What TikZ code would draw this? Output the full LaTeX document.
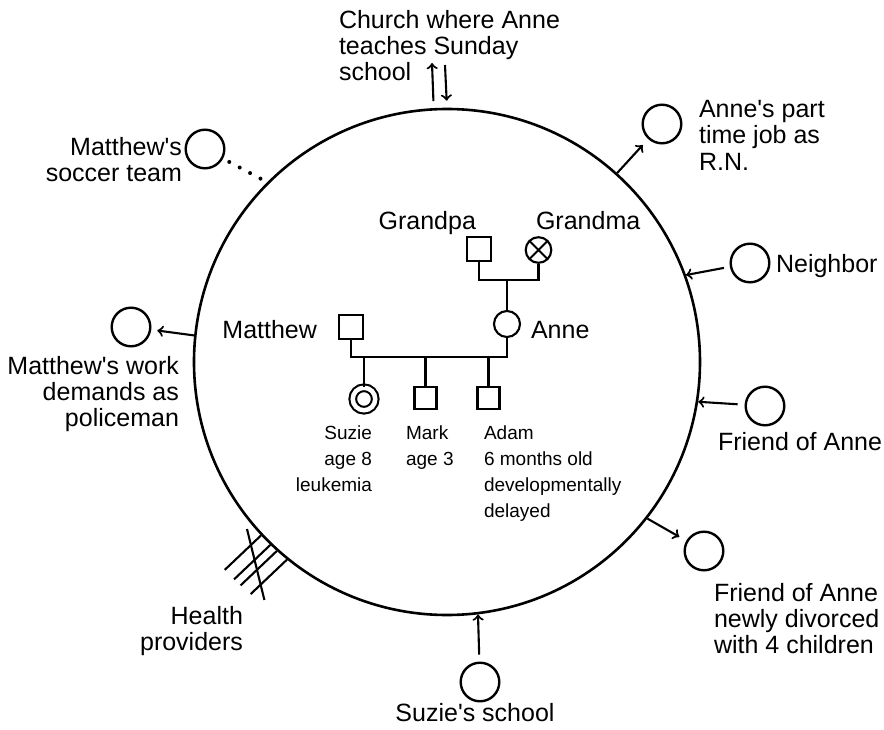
\documentclass[tikz,border=0pt]{standalone}
\usepackage{fontspec}
\setmainfont{Liberation Sans}
\usetikzlibrary{calc, positioning}

\newcommand{\ap}{\textquotesingle}
\tikzset{
  big/.style={font=\fontsize{12.5}{13.2}\selectfont, inner sep=0pt},
  small/.style={font=\fontsize{9.5}{13}\selectfont, inner sep=0pt},
  tie/.style={shape=circle, draw=black, minimum size=19.3pt, inner sep=0pt, line width=1.2pt},
  male/.style={shape=rectangle, draw=black, minimum size=12pt, inner sep=0pt},
  female/.style={shape=circle, draw=black, minimum size=13pt, inner sep=0pt}
}

\begin{document}
\begin{tikzpicture}[x=0.5pt, y=0.5pt, line width=1.05pt]
\useasboundingbox (-447,-367) rectangle (437,362);
\node[shape=circle, draw=black, line width=1.3pt, minimum size=253pt, inner sep=0pt] (fam) at (0,0) {};
%family
\node[male] (gpa) at (32,113) {};
\node[female, minimum size=12.8pt, path picture={\draw (path picture bounding box.north west) -- (path picture bounding box.south east) (path picture bounding box.south west) -- (path picture bounding box.north east);}] (gma) at (91.5,112) {};
\node[female] (anne) at (60,38) {};
\node[male] (matt) at (-96,35) {};
\node[female, double, double distance=2.25pt, minimum size=11.25pt] (suzie) at (-83,-37) {};
\node[male, minimum size=11pt] (mark) at (-21.5,-36) {};
\node[male, minimum size=11pt] (adam) at (41.5,-36) {};
\coordinate (gp) at (60,82); \coordinate (sib) at (0,5);
\draw (gpa.south) |- (gp) -| (gma.south); \draw (gp) -- (anne.north);
\draw (matt.south) |- (sib) -| (anne.south);
\foreach \c in {suzie, mark, adam} \draw (\c.north) -- (\c |- sib);
\node[big, anchor=base east] (gpal) at (30,133) {Grandpa};
\node[big, anchor=base west] (gmal) at (88,133) {Grandma};
\node[big, anchor=base east] (mattl) at (-129,24) {Matthew};
\node[big, anchor=base west] (annel) at (83,24) {Anne};
\node[small, anchor=north east, align=right] (suziel) at (-74,-63) {Suzie\\age 8\\leukemia};
\node[small, anchor=north west, align=left] (markl) at (-42,-63) {Mark\\age 3};
\node[small, anchor=north west, align=left] (adaml) at (36,-63) {Adam\\6 months old\\developmentally\\delayed};
%outside
\node[tie] (job) at (215,238) {};
\node[tie] (nbr) at (303,99) {};
\node[tie] (frA) at (318,-44) {};
\node[tie] (frB) at (257,-189) {};
\node[tie] (school) at (33,-320) {};
\node[tie] (work) at (-316,35) {};
\node[tie] (soccer) at (-242,213) {};
\node[big, anchor=north west, align=left] (churchl) at (-109,353) {Church where Anne\\teaches Sunday\\school};
\node[big, anchor=north west, align=left] (jobl) at (251,263) {Anne\ap s part\\time job as\\R.N.};
\node[big, anchor=north east, align=right] (soccerl) at (-264,226) {Matthew\ap s\\soccer team};
\node[big, anchor=north east, align=right] (workl) at (-267,7) {Matthew\ap s work\\demands as\\policeman};
\node[big, anchor=base west] (nbrl) at (328,90) {Neighbor};
\node[big, anchor=base west] (frAl) at (270,-88) {Friend of Anne};
\node[big, anchor=north west, align=left] (frBl) at (266,-220) {Friend of Anne\\newly divorced\\with 4 children};
\node[big, anchor=north east, align=right] (healthl) at (-203,-243) {Health\\providers};
\node[big, anchor=base] (schooll) at (28,-359) {Suzie\ap s school};
\coordinate (ch1) at (-15,299); \coordinate (ch2) at (-2,297);
\draw [->, shorten <=3.5pt] (fam.93.4) -- (ch1);
\draw [->, shorten >=3.5pt] (ch2) -- (fam.90.45);
\draw [->, shorten >=4pt] (fam.48) -- (job);
\draw [->, shorten <=3pt] (nbr) -- (fam.20.4);
\draw [->, shorten <=3.5pt] (frA) -- (fam.-9.5);
\draw [->, shorten >=4pt] (fam.-38.8) -- (frB);
\draw [->, shorten <=3.5pt] (school) -- (fam.-83.2);
\draw [->, shorten >=3pt] (fam.174.8) -- (work);
\draw [line width=2pt, line cap=round, dash pattern=on 0pt off 5.9pt, shorten <=3.5pt] (soccer) -- (fam.135);
%stress lines
\foreach \a in {223.5,226,228.5,231} \draw (fam.\a) -- ++(223.5:50);
\draw (-200,-167) -- (-182.6,-238);
\end{tikzpicture}
\end{document}
